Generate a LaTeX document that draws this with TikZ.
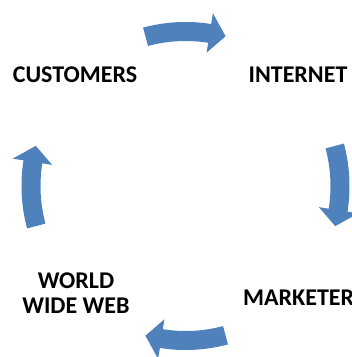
\documentclass[tikz,border=0pt]{standalone}
\usepackage{fontspec}
\setmainfont{Carlito}
\definecolor{cycleblue}{RGB}{79,129,189}
\begin{document}
\begin{tikzpicture}[x=1pt,y=1pt,
  label/.style={font=\bfseries\fontsize{24}{25}\selectfont, text=black, inner sep=0pt, align=center},
  cyclearrow/.style={fill=cycleblue, draw=none}]
\useasboundingbox (0,0) rectangle (352,357);
% centre of the cycle
\coordinate (c) at (185.5,171);
% labels
\node[label] (customers) at (75,282) {CUSTOMERS};
\node[label] (internet) at (298,282) {INTERNET};
\node[label, anchor=west] (marketer) at (243,59) {MARKETER};
\node[label] (www) at (76,64) {WORLD\\WIDE WEB};
% curved block arrows running clockwise round the cycle
\foreach \tail/\tip in {105/75, 15/-15, -75/-105, 195/165}{
  \pgfmathsetmacro\base{\tip+6}
  \fill[cyclearrow]
    ([shift={(\tail:164pt)}]c) arc[start angle=\tail, end angle=\base, radius=164pt]
    -- ([shift={(\base:175pt)}]c)
    -- ([shift={(\tip:155pt)}]c)
    -- ([shift={(\base:135pt)}]c)
    -- ([shift={(\base:145pt)}]c) arc[start angle=\base, end angle=\tail, radius=145pt]
    -- cycle;
}
\end{tikzpicture}
\end{document}
